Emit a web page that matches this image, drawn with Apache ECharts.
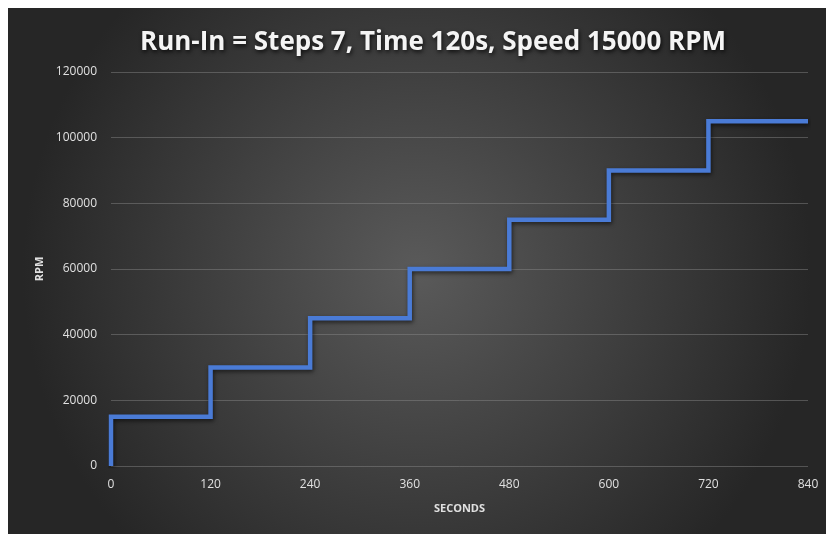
<!DOCTYPE html>
<html>
<head>
<meta charset="utf-8">
<script src="https://cdn.jsdelivr.net/npm/echarts@6/dist/echarts.min.js"></script>
<style>
  html, body { margin: 0; padding: 0; background: #ffffff; }
  #chart { position: absolute; left: 8px; top: 8px; width: 818px; height: 526px; }
</style>
</head>
<body>
<div id="chart"></div>
<script>
// Run-in profile: 7 steps of 120 s, each adding 15000 RPM
const stepStartSeconds = [0, 0, 120, 240, 360, 480, 600, 720, 840];
const stepRpm = [0, 15000, 30000, 45000, 60000, 75000, 90000, 105000, 105000];
const xTicks = [0, 120, 240, 360, 480, 600, 720, 840];
const yTicks = [0, 20000, 40000, 60000, 80000, 100000, 120000];

const points = stepStartSeconds.map((s, i) => [s, stepRpm[i]]);

const chart = echarts.init(document.getElementById('chart'), null, { renderer: 'canvas' });
const labelFont = 'Open Sans, Liberation Sans, sans-serif';

chart.setOption({
  backgroundColor: {
    type: 'radial', x: 0.5, y: 0.5, r: 0.75,
    colorStops: [
      { offset: 0, color: '#5a5a5a' },
      { offset: 1, color: '#262626' }
    ]
  },
  title: {
    text: 'Run-In = Steps 7, Time 120s, Speed 15000 RPM',
    left: 127,
    top: 17,
    textStyle: {
      color: '#f4f4f4',
      fontSize: 26,
      fontWeight: 'bold',
      fontFamily: labelFont,
      textShadowColor: 'rgba(0,0,0,0.8)',
      textShadowBlur: 4,
      textShadowOffsetX: 1,
      textShadowOffsetY: 2
    }
  },
  grid: { left: 103, right: 18, top: 64, bottom: 68 },
  xAxis: {
    type: 'value',
    min: xTicks[0],
    max: xTicks[xTicks.length - 1],
    interval: 120,
    name: 'SECONDS',
    nameLocation: 'middle',
    nameGap: 37,
    nameTextStyle: { color: '#e0e0e0', fontSize: 11, fontWeight: 'bold', fontFamily: labelFont },
    axisLine: { show: false },
    axisTick: { show: false },
    splitLine: { show: false },
    axisLabel: { color: '#e0e0e0', fontSize: 12, margin: 13, fontFamily: labelFont }
  },
  yAxis: {
    type: 'value',
    min: yTicks[0],
    max: yTicks[yTicks.length - 1],
    interval: 20000,
    name: 'RPM',
    nameLocation: 'middle',
    nameGap: 63,
    nameRotate: 90,
    nameTextStyle: { color: '#e0e0e0', fontSize: 11, fontWeight: 'bold', fontFamily: labelFont },
    axisLine: { show: false },
    axisTick: { show: false },
    splitLine: { show: true, lineStyle: { color: 'rgba(140,140,140,0.45)', width: 1 } },
    axisLabel: {
      color: '#e0e0e0', fontSize: 12, margin: 14, fontFamily: labelFont,
      formatter: v => String(v)
    }
  },
  series: [{
    type: 'line',
    data: points,
    step: 'end',
    showSymbol: false,
    animation: false,
    lineStyle: {
      color: '#4a7bd6',
      width: 4.5,
      join: 'miter',
      shadowColor: 'rgba(0,0,0,0.6)',
      shadowBlur: 4,
      shadowOffsetX: 1,
      shadowOffsetY: 2
    }
  }]
});
</script>
</body>
</html>
